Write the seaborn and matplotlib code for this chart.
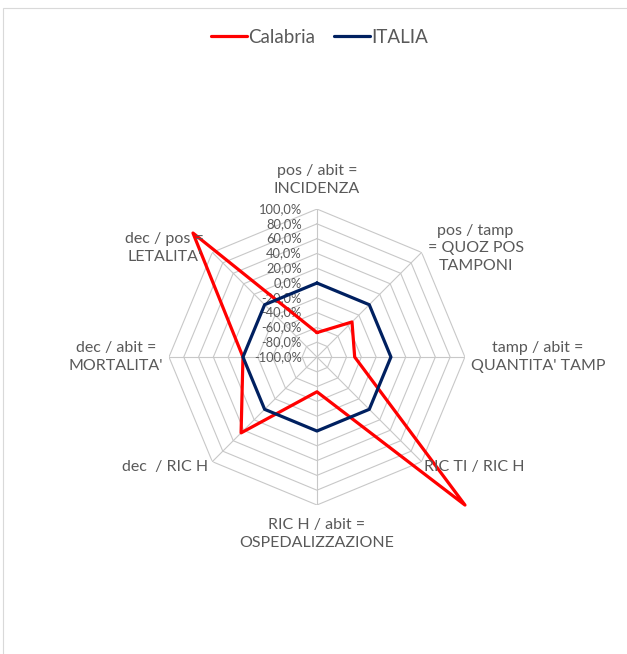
import numpy as np
import matplotlib.pyplot as plt
import matplotlib.patches as mpatches
import seaborn as sns

# dati del grafico radar
categorie = ["pos / abit =\nINCIDENZA",
             "pos / tamp\n= QUOZ POS\nTAMPONI",
             "tamp / abit =\nQUANTITA' TAMP",
             "RIC TI / RIC H",
             "RIC H / abit =\nOSPEDALIZZAZIONE",
             "dec  / RIC H",
             "dec / abit =\nMORTALITA'",
             "dec / pos =\nLETALITA'"]
calabria = [-67, -33, -49, 183, -53, 45, 0, 137]
italia = [0, 0, 0, 0, 0, 0, 0, 0]
serie = ["Calabria", "ITALIA"]
colori = ["#FF0000", "#002060"]
livelli = [-80, -60, -40, -20, 0, 20, 40, 60, 80, 100]
etichette_livelli = [-100, -80, -60, -40, -20, 0, 20, 40, 60, 80, 100]

# posizione etichette categorie (offset in pixel dal vertice esterno)
offset_cat = [(0, 29), (54, 4), (73, 0), (53, -5), (0, -29), (-47, -5), (-53, 0), (-48, 4)]

sns.set_theme(style="white")
plt.rcParams["font.family"] = ["Lato", "DejaVu Sans"]
grigio = "#595959"

n = len(categorie)
angoli = np.arange(n) * 2 * np.pi / n
angoli_chiusi = np.append(angoli, 2 * np.pi)

fig = plt.figure(figsize=(6.27, 6.54), dpi=100)
ax = fig.add_axes([0.2695, 0.2278, 0.472, 0.4526], projection="polar")
ax.set_theta_zero_location("N")
ax.set_theta_direction(-1)
ax.set_ylim(-100, 100)
ax.grid(False)
ax.set_xticks([])
ax.set_yticks([])
ax.spines["polar"].set_visible(False)
ax.patch.set_alpha(0)

# griglia ottagonale stile Excel
for v in livelli:
    ax.plot(angoli_chiusi, [v] * (n + 1), color="#c8c8c8", lw=0.8, zorder=1)
for a in angoli:
    ax.plot([a, a], [-100, 100], color="#c8c8c8", lw=0.8, zorder=1)

# serie
for nome, valori, col in zip(serie, [calabria, italia], colori):
    sns.lineplot(x=angoli_chiusi, y=valori + valori[:1], sort=False, estimator=None,
                 ax=ax, color=col, lw=2.3, label=nome, clip_on=False, zorder=3)

# etichette asse radiale
for v in etichette_livelli:
    ax.annotate(f"{v:.1f}%".replace(".", ","), xy=(0, v), xytext=(-15, 0),
                textcoords="offset pixels", ha="right", va="center",
                fontsize=9.3, color=grigio, zorder=2)

# etichette categorie
for a, testo, (dx, dy) in zip(angoli, categorie, offset_cat):
    ax.annotate(testo, xy=(a, 100), xytext=(dx, dy), textcoords="offset pixels",
                ha="center", va="center", fontsize=11.5, color=grigio,
                linespacing=1.35, annotation_clip=False)

ax.get_legend().remove()
handles, labels = ax.get_legend_handles_labels()
leg = fig.legend(handles, labels, loc="center", bbox_to_anchor=(0.51, 0.943),
                 ncol=2, frameon=False, fontsize=13.5, handlelength=1.9,
                 handletextpad=0.1, columnspacing=1.0)
for t in leg.get_texts():
    t.set_color(grigio)

# bordo area grafico
fig.patches.append(mpatches.Rectangle((2.5 / 627, -0.1), 2, 1 - 7.5 / 654 + 0.1,
                                      fill=False, edgecolor="#d9d9d9", lw=0.8,
                                      transform=fig.transFigure, figure=fig))

fig.savefig("out.png", dpi=100)
